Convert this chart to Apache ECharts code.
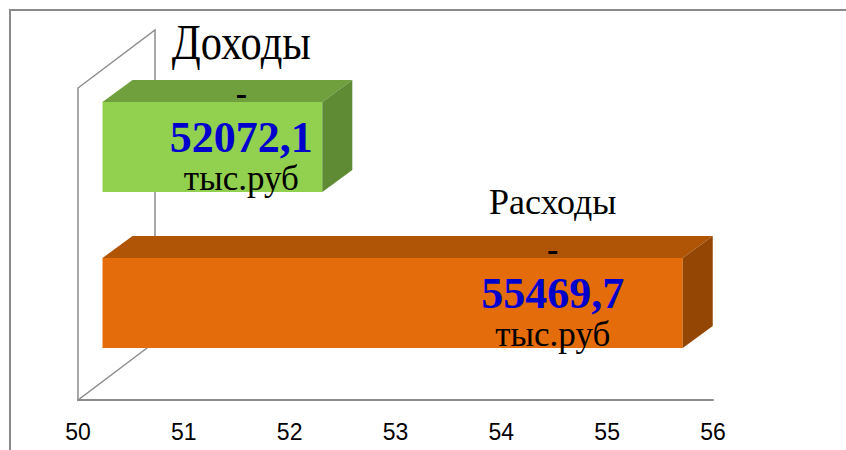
<!DOCTYPE html>
<html>
<head>
<meta charset="utf-8">
<script src="https://cdn.jsdelivr.net/npm/echarts@6/dist/echarts.min.js"></script>
<style>html,body{margin:0;padding:0;background:#fff}#c{width:846px;height:450px}</style>
</head>
<body>
<div id="c"></div>
<script>
// ---- data ----
const categories = ['Доходы', 'Расходы'];
const values = [52072.1, 55469.7];          // тыс.руб
const unitText = 'тыс.руб';
const axisTicks = [50, 51, 52, 53, 54, 55, 56]; // axis in thousands
const axisMin = 50, axisMax = 56;

// ---- styles / layout ----
const barColors = [
  { front: '#92D050', top: '#70A03E', side: '#5E8B33' },
  { front: '#E46C0A', top: '#B05405', side: '#944705' }
];
const labelDx = [-81, -130];
const nameFont = [{ size: 50, sx: 0.85, dy: -105 }, { size: 36, sx: 1, dy: -101 }];
const barDepth = [30, -22];
const wallDepth = [77, -58];
const serif = '"Liberation Serif", "DejaVu Serif", serif';

function fmt(v) { return v.toFixed(1).replace('.', ','); }

const chart = echarts.init(document.getElementById('c'), null, { renderer: 'svg' });
chart.setOption({
  animation: false,
  backgroundColor: '#fff',
  graphic: [{
    type: 'rect', silent: true, z: 0,
    shape: { x: 10, y: 10, width: 900, height: 500 },
    style: { fill: 'none', stroke: '#8a8a8a', lineWidth: 2 }
  }],
  grid: [
    { left: 78, right: 133, top: 88, bottom: 50 },
    { left: 102.5, right: 107, top: 69, bottom: 69 }
  ],
  xAxis: [
    {
      gridIndex: 0, type: 'value', min: axisMin, max: axisMax, interval: 1,
      axisLine: { show: true, lineStyle: { color: '#8c8c8c', width: 2 } },
      axisTick: { show: false }, splitLine: { show: false },
      axisLabel: {
        color: '#000', fontSize: 23, fontFamily: '"Liberation Sans", Arial, sans-serif', margin: 20,
        formatter: v => axisTicks.includes(v) ? String(v) : ''
      }
    },
    { gridIndex: 1, type: 'value', min: axisMin, max: axisMax, show: false }
  ],
  yAxis: [
    { gridIndex: 0, type: 'value', min: 0, max: 1, show: false },
    { gridIndex: 1, type: 'category', data: categories, inverse: true, show: false }
  ],
  series: [
    {
      type: 'custom', xAxisIndex: 0, yAxisIndex: 0, z: 1, silent: true,
      data: [[axisMin, 0]],
      renderItem: function (params, api) {
        const p0 = api.coord([axisMin, 0]);
        const p1 = api.coord([axisMin, 1]);
        return {
          type: 'polygon',
          shape: { points: [p0, p1, [p1[0] + wallDepth[0], p1[1] + wallDepth[1]], [p0[0] + wallDepth[0], p0[1] + wallDepth[1]]] },
          style: { fill: 'none', stroke: '#8c8c8c', lineWidth: 1.5 }
        };
      }
    },
    {
      type: 'custom', xAxisIndex: 1, yAxisIndex: 1, z: 2, silent: true,
      data: values.map((v, i) => [v / 1000, i]),
      encode: { x: 0, y: 1 },
      renderItem: function (params, api) {
        const i = params.dataIndex;
        const v = api.value(0);
        const s = api.coord([axisMin, i]);
        const e = api.coord([v, i]);
        const h = api.size([0, 1])[1] * 0.577;
        const x0 = s[0], x1 = e[0], y0 = e[1] - h / 2, y1 = e[1] + h / 2;
        const dx = barDepth[0], dy = barDepth[1];
        const c = barColors[i];
        const cx = x1 + labelDx[i], cy = e[1];
        const nf = nameFont[i];
        return {
          type: 'group',
          children: [
            { type: 'rect', shape: { x: x0, y: y0, width: x1 - x0, height: h }, style: { fill: c.front } },
            { type: 'polygon', shape: { points: [[x0, y0], [x1, y0], [x1 + dx, y0 + dy], [x0 + dx, y0 + dy]] }, style: { fill: c.top } },
            { type: 'polygon', shape: { points: [[x1, y0], [x1 + dx, y0 + dy], [x1 + dx, y1 + dy], [x1, y1]] }, style: { fill: c.side } },
            { type: 'text', x: cx, y: cy + nf.dy, scaleX: nf.sx,
              style: { x: 0, y: 0, text: categories[i], fill: '#000', align: 'center', verticalAlign: 'middle', font: nf.size + 'px ' + serif } },
            { type: 'text', x: cx, y: cy - 54,
              style: { x: 0, y: 0, text: '-', fill: '#000', align: 'center', verticalAlign: 'middle', font: 'bold 34px ' + serif } },
            { type: 'text', x: cx, y: cy - 10,
              style: { x: 0, y: 0, text: fmt(values[i]), fill: '#0000CC', align: 'center', verticalAlign: 'middle', font: 'bold 44px ' + serif } },
            { type: 'text', x: cx, y: cy + 31,
              style: { x: 0, y: 0, text: unitText, fill: '#000', align: 'center', verticalAlign: 'middle', font: '35px ' + serif } }
          ]
        };
      }
    }
  ]
});
</script>
</body>
</html>
